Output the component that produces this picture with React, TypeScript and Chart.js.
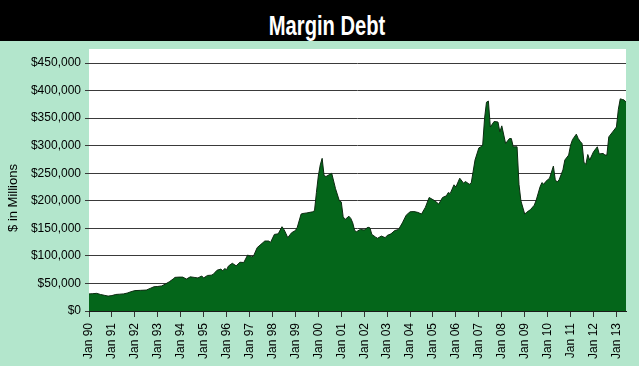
import React, { useEffect, useRef } from "react";
import { Chart, registerables } from "chart.js";

Chart.register(...registerables);

const TITLE = "Margin Debt";
const Y_AXIS_TITLE = "$ in Millions";

const TICK_LABELS = [
  "Jan 90", "Jan 91", "Jan 92", "Jan 93", "Jan 94", "Jan 95", "Jan 96", "Jan 97",
  "Jan 98", "Jan 99", "Jan 00", "Jan 01", "Jan 02", "Jan 03", "Jan 04", "Jan 05",
  "Jan 06", "Jan 07", "Jan 08", "Jan 09", "Jan 10", "Jan 11", "Jan 12", "Jan 13",
];

const Y_TICKS = [0, 50000, 100000, 150000, 200000, 250000, 300000, 350000, 400000, 450000];

// months since Jan 1990
const MONTHS = [
  0, 2, 4, 6, 8, 10, 12, 14, 16, 18,
  20, 22, 24, 27, 30, 32, 34, 36, 38, 40,
  42, 44, 45, 47, 49, 51, 53, 55, 57, 59,
  60, 62, 64, 65, 67, 69, 70, 71, 72, 73,
  75, 77, 79, 81, 83, 85, 86, 88, 90, 92,
  94, 95, 97, 99, 101, 102, 103, 104, 106, 108,
  109, 111, 112, 114, 117, 118, 119, 120, 121, 122,
  123, 124, 126, 127, 128, 129, 131, 132, 133, 134,
  136, 137, 138, 139, 140, 142, 144, 146, 147, 148,
  150, 151, 153, 155, 156, 158, 160, 162, 164, 166,
  168, 170, 172, 174, 176, 178, 179, 181, 183, 185,
  187, 188, 189, 191, 192, 194, 196, 197, 199, 200,
  201, 202, 204, 205, 206, 207, 208, 209, 210, 212,
  214, 215, 216, 218, 220, 221, 222, 224, 225, 226,
  228, 229, 231, 233, 234, 236, 237, 238, 239, 241,
  243, 244, 245, 246, 248, 249, 251, 252, 253, 255,
  256, 257, 258, 259, 260, 261, 262, 264, 266, 267,
  269, 270, 271, 272, 274, 276, 277, 278, 279, 280,
  281,
];

// margin debt, $ millions
const VALUES = [
  31000, 31500, 32000, 30000, 28500, 27000, 28000, 30000, 30500, 31000,
  32500, 35000, 37000, 37500, 38000, 41000, 44000, 44500, 45500, 49000,
  53000, 58000, 61000, 61500, 61500, 58000, 62000, 61000, 60000, 63500,
  60000, 64500, 65000, 66500, 74000, 76000, 73000, 77000, 75000, 81700,
  86600, 82000, 88500, 88000, 101600, 98600, 99000, 115000, 121000, 127000,
  127000, 124500, 139000, 140000, 153000, 148000, 141000, 133000, 142000, 146000,
  152000, 176000, 177000, 178000, 180000, 182000, 215000, 245000, 265000, 277000,
  246000, 244000, 248000, 250000, 236000, 222000, 200000, 198000, 171000, 166000,
  172000, 168000, 160000, 146000, 144000, 148000, 147000, 152000, 151000, 139000,
  134000, 132000, 136000, 133000, 137000, 140000, 146000, 148000, 160000, 174000,
  180000, 180500, 179000, 176000, 188000, 206000, 204000, 200000, 194000, 206000,
  209000, 215000, 213000, 229000, 225000, 241000, 232000, 235000, 230000, 232000,
  253000, 274000, 296000, 298000, 301000, 350000, 379000, 381000, 334000, 344000,
  343000, 325000, 336000, 304000, 313000, 313000, 298000, 298000, 230000, 200000,
  176000, 179000, 184000, 192000, 201000, 225000, 233000, 230000, 235000, 241000,
  263000, 238000, 234000, 238000, 256000, 274000, 283000, 301000, 311000, 321000,
  313000, 308000, 304000, 270000, 266000, 284000, 274000, 289000, 298000, 285000,
  286000, 283000, 283000, 316000, 325000, 334000, 366000, 385000, 384000, 383000,
  379000,
];

const BG = "#b3e6cc";
const FILL = "#04661a";
const FONT = "'Liberation Sans', Arial, Helvetica, sans-serif";

export default function App() {
  const ref = useRef<HTMLCanvasElement | null>(null);

  useEffect(() => {
    document.body.style.margin = "0";
    const canvas = ref.current;
    if (!canvas) return;

    const bgPlugin = {
      id: "bgPlugin",
      beforeDraw(chart: any) {
        const { ctx, chartArea } = chart;
        ctx.save();
        ctx.fillStyle = BG;
        ctx.fillRect(0, 0, chart.width, chart.height);
        ctx.fillStyle = "#ffffff";
        ctx.fillRect(chartArea.left, chartArea.top, chartArea.right - chartArea.left, chartArea.bottom - chartArea.top);
        ctx.restore();
      },
      afterDraw(chart: any) {
        const { ctx } = chart;
        ctx.save();
        ctx.fillStyle = "#000";
        ctx.font = `13px ${FONT}`;
        ctx.textAlign = "center";
        ctx.textBaseline = "middle";
        ctx.translate(13, 198);
        ctx.rotate(-Math.PI / 2);
        ctx.fillText(Y_AXIS_TITLE, 0, 0);
        ctx.restore();
      },
    };

    const data = MONTHS.map((m, i) => ({ x: m, y: VALUES[i] }));

    const chart = new Chart(canvas, {
      type: "line",
      data: {
        datasets: [
          {
            data,
            fill: "origin",
            backgroundColor: FILL,
            borderColor: "#0b2a10",
            borderWidth: 1,
            pointRadius: 0,
            tension: 0,
          },
        ],
      },
      options: {
        animation: false,
        responsive: false,
        events: [],
        layout: { padding: { top: 49, right: 13, left: 0, bottom: 0 } },
        plugins: {
          legend: { display: false },
          tooltip: { enabled: false },
          title: { display: false },
        },
        scales: {
          x: {
            type: "linear",
            min: 0,
            max: 281,
            z: 1,
            afterFit(scale: any) {
              scale.height = 55;
            },
            afterBuildTicks(scale: any) {
              scale.ticks = TICK_LABELS.map((_, i) => ({ value: i * 12 }));
            },
            border: { display: true, color: "#1a1a1a", width: 1 },
            grid: {
              drawOnChartArea: false,
              drawTicks: true,
              tickLength: 6,
              color: "#333",
            },
            ticks: {
              autoSkip: false,
              minRotation: 90,
              maxRotation: 90,
              padding: 6,
              color: "#000",
              font: { family: FONT, size: 12 },
              callback: (v: any) => TICK_LABELS[Math.round(Number(v) / 12)] ?? "",
            },
          },
          y: {
            type: "linear",
            min: 0,
            max: 475500,
            z: 1,
            afterFit(scale: any) {
              scale.width = 89;
            },
            afterBuildTicks(scale: any) {
              scale.ticks = Y_TICKS.map((v) => ({ value: v }));
            },
            border: { display: false },
            grid: {
              drawTicks: true,
              tickLength: 4,
              color: "#3a3a3a",
              lineWidth: 1,
            },
            ticks: {
              padding: 4,
              color: "#000",
              font: { family: FONT, size: 12 },
              callback: (v: any) => "$" + Number(v).toLocaleString("en-US"),
            },
          },
        },
      },
      plugins: [bgPlugin],
    });

    return () => chart.destroy();
  }, []);

  return (
    <div style={{ position: "relative", width: 639, height: 366, background: BG, overflow: "hidden" }}>
      <canvas ref={ref} width={639} height={366} style={{ display: "block", position: "absolute", left: 0, top: 0 }} />
      <div
        style={{
          position: "absolute",
          left: 0,
          top: 0,
          width: 639,
          height: 41,
          background: "#000",
        }}
      >
        <div
          style={{
            position: "absolute",
            left: 0,
            top: 12,
            width: 639,
            textAlign: "center",
            color: "#fff",
            fontFamily: FONT,
            fontWeight: "bold",
            fontSize: 28,
            lineHeight: "28px",
            transform: "translateX(6px) scaleX(0.72)",
            transformOrigin: "325px 0",
            whiteSpace: "nowrap",
          }}
        >
          {TITLE}
        </div>
      </div>
    </div>
  );
}
